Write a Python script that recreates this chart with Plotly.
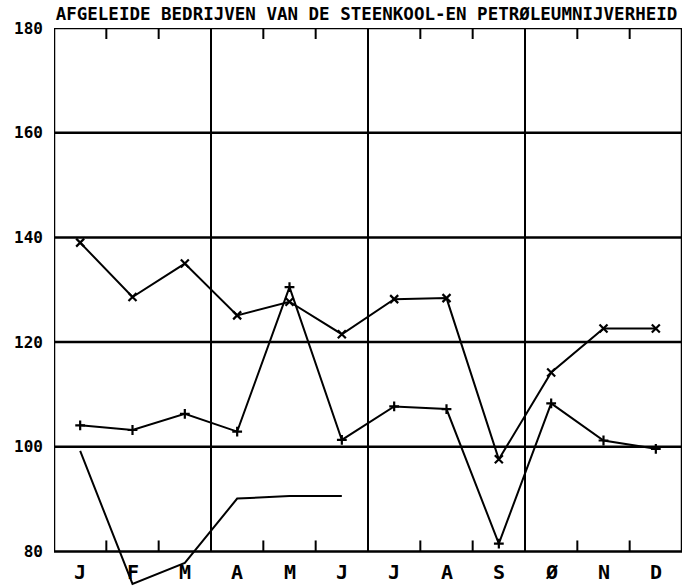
import plotly.graph_objects as go

months = ["J", "F", "M", "A", "M", "J", "J", "A", "S", "Ø", "N", "D"]
series_x = [139.0, 128.6, 135.0, 125.1, 127.7, 121.5, 128.2, 128.4, 97.6, 114.2, 122.6, 122.6]
series_plus = [104.1, 103.2, 106.3, 102.9, 130.5, 101.3, 107.7, 107.2, 81.5, 108.3, 101.2, 99.6]
series_line = [99.2, 73.8, 77.8, 90.1, 90.6, 90.6, None, None, None, None, None, None]
y_ticks = [80, 100, 120, 140, 160, 180]
title = "AFGELEIDE BEDRIJVEN VAN DE STEENKOOL-EN PETRØLEUMNIJVERHEID"

xs = list(range(len(months)))
FONT = "DejaVu Sans Mono"
YMIN, YMAX = 80, 180
XMIN, XMAX = -0.5, len(months) - 0.5

fig = go.Figure()
fig.add_trace(go.Scatter(x=xs, y=series_x, mode="lines+markers",
                         line=dict(color="black", width=2),
                         marker=dict(symbol="x-thin", size=8, color="black",
                                     line=dict(color="black", width=2.2)),
                         showlegend=False, cliponaxis=False))
fig.add_trace(go.Scatter(x=xs, y=series_plus, mode="lines+markers",
                         line=dict(color="black", width=2),
                         marker=dict(symbol="cross-thin", size=7, color="black",
                                     line=dict(color="black", width=2.2)),
                         showlegend=False, cliponaxis=False))
fig.add_trace(go.Scatter(x=xs, y=series_line, mode="lines",
                         line=dict(color="black", width=2),
                         connectgaps=False, showlegend=False))

shapes = []
# frame
shapes.append(dict(type="rect", xref="x", yref="y", x0=XMIN, x1=XMAX, y0=YMIN, y1=YMAX,
                   line=dict(color="black", width=2.5), layer="below"))
# horizontal grid
for v in y_ticks[1:-1]:
    shapes.append(dict(type="line", xref="x", yref="y", x0=XMIN, x1=XMAX, y0=v, y1=v,
                       line=dict(color="black", width=2.5), layer="below"))
# quarter lines and month ticks
tick_len = 2.1
for i in range(1, len(months)):
    b = i - 0.5
    if i % 3 == 0:
        shapes.append(dict(type="line", xref="x", yref="y", x0=b, x1=b, y0=YMIN, y1=YMAX,
                           line=dict(color="black", width=2), layer="below"))
    else:
        shapes.append(dict(type="line", xref="x", yref="y", x0=b, x1=b, y0=YMIN, y1=YMIN + tick_len,
                           line=dict(color="black", width=2), layer="below"))
        shapes.append(dict(type="line", xref="x", yref="y", x0=b, x1=b, y0=YMAX, y1=YMAX - tick_len,
                           line=dict(color="black", width=2), layer="below"))

annotations = []
for i, m in enumerate(months):
    annotations.append(dict(x=i, y=YMIN, xref="x", yref="y", text=m, showarrow=False,
                            yanchor="top", yshift=-7,
                            font=dict(family=FONT, size=20, color="black", weight=700)))

fig.update_layout(
    width=694, height=586,
    margin=dict(l=54, r=12, t=28, b=0),
    paper_bgcolor="white", plot_bgcolor="white",
    shapes=shapes,
    annotations=annotations,
    title=dict(text=title, x=366.5 / 694, xref="container", xanchor="center",
               y=1 - 13.5 / 586, yref="container", yanchor="middle",
               font=dict(family=FONT, size=17.5, color="black", weight=700)),
    xaxis=dict(range=[XMIN, XMAX], visible=False, fixedrange=True),
    yaxis=dict(range=[73.4, YMAX], tickvals=y_ticks, ticktext=[str(v) for v in y_ticks],
               showgrid=False, zeroline=False, showline=False, ticks="",
               ticklabelstandoff=10, fixedrange=True,
               tickfont=dict(family=FONT, size=16, color="black", weight=700)),
)

fig.write_html("out.html", config={"displayModeBar": False},
               post_script="document.body.style.margin='0';document.body.style.overflow='hidden';")
